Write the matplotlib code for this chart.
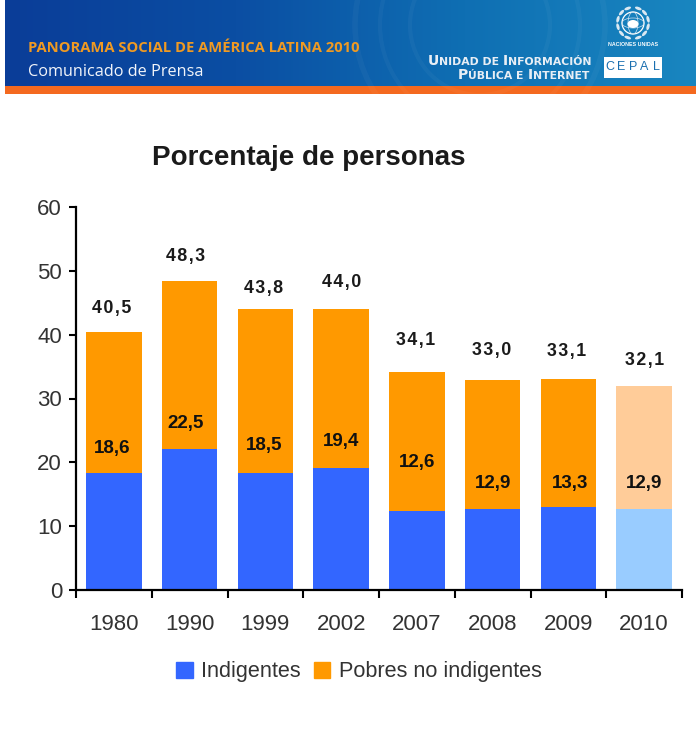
import matplotlib
matplotlib.use("Agg")
import matplotlib.pyplot as plt
import numpy as np
from matplotlib.colors import LinearSegmentedColormap
from matplotlib.patches import Circle, Ellipse, Patch, Rectangle

plt.rcParams["font.family"] = ["Liberation Sans", "DejaVu Sans"]

# Data
years = ["1980", "1990", "1999", "2002", "2007", "2008", "2009", "2010"]
indigentes = [18.3, 22.1, 18.3, 19.1, 12.4, 12.7, 13.0, 12.7]
pobres = [22.1, 26.3, 25.7, 24.9, 21.7, 20.2, 20.0, 19.3]
labels_total = ["40,5", "48,3", "43,8", "44,0", "34,1", "33,0", "33,1", "32,1"]
labels_indigentes = ["18,6", "22,5", "18,5", "19,4", "12,6", "12,9", "13,3", "12,9"]
y_ticks = [0, 10, 20, 30, 40, 50, 60]

W, H = 700, 732
HAIR = "\u200a"


def small_caps(fig, ax, x, y, parts):
    # parts alternate big and small pieces, drawn left to right from x (pixels)
    renderer = fig.canvas.get_renderer()
    for i, piece in enumerate(parts):
        size = 10 if i % 2 == 0 else 7.8
        t = ax.text(x, y, piece, color="#e8eef5", fontsize=size, fontweight="bold", family="DejaVu Sans",
                    va="baseline", zorder=3)
        x += t.get_window_extent(renderer).width


def draw_header(fig):
    # Whole figure in pixel coordinates, y going down
    bg = fig.add_axes([0, 0, 1, 1])
    cmap = LinearSegmentedColormap.from_list("band", ["#0a3d98", "#0b4ea3", "#0f6fb3", "#1986c0"])
    grad = np.linspace(0, 1, 256).reshape(1, -1)
    bg.imshow(grad, cmap=cmap, extent=(5, 696, 86, 0), aspect="auto", zorder=1)
    bg.set_xlim(0, W)
    bg.set_ylim(H, 0)
    bg.axis("off")
    bg.add_patch(Rectangle((5, 86), 691, 8, color="#f4691f", lw=0, zorder=2))

    # Faint globe behind the header
    clip = Rectangle((5, 0), 691, 94, transform=bg.transData)
    for r, lw in ((125, 4), (100, 3), (70, 3)):
        c = Circle((480, 25), r, fill=False, ec="white", alpha=0.035, lw=lw, zorder=2)
        bg.add_patch(c)
        c.set_clip_path(clip)

    bg.text(28, 48, "PANORAMA SOCIAL DE AMÉRICA LATINA 2010", color="#f09a22", fontsize=10.6,
            fontweight="bold", family="Open Sans", va="center", zorder=3)
    bg.text(28, 72, "Comunicado de Prensa", color="#f2f5fa", fontsize=11.7, family="Open Sans",
            va="center", zorder=3)
    small_caps(fig, bg, 428, 65, ["U", "NIDAD DE ", "I", "NFORMACIÓN"])
    small_caps(fig, bg, 458, 79, ["P", "ÚBLICA E ", "I", "NTERNET"])

    # UN emblem: globe and wreath
    cx, cy = 633, 23
    bg.add_patch(Circle((cx, cy), 11, fill=False, ec="white", lw=0.9, zorder=3))
    bg.add_patch(Ellipse((cx, cy), 10, 22, fill=False, ec="#cfe2f0", lw=0.5, zorder=3))
    bg.add_patch(Ellipse((cx, cy), 22, 10, fill=False, ec="#cfe2f0", lw=0.5, zorder=3))
    bg.add_patch(Ellipse((cx, cy + 1), 11, 8, color="white", lw=0, zorder=3))
    for a in np.radians(np.arange(-70, 71, 28)):
        for side in (-1, 1):
            bg.add_patch(Ellipse((cx + side * 15.5 * np.cos(a), cy + 15.5 * np.sin(a)), 3, 7,
                                 angle=side * np.degrees(a), color="#dbe8f2", lw=0, zorder=3))
    bg.text(cx, 45, "NACIONES UNIDAS", color="white", fontsize=3.8, fontweight="bold",
            ha="center", va="center", zorder=3)

    # CEPAL box
    bg.add_patch(Rectangle((604, 57), 58, 21, color="white", lw=0, zorder=3))
    for letter, lx in zip("CEPAL", [610, 621.5, 633, 644.5, 656]):
        bg.text(lx, 67.5, letter, color="#1a6fb0", fontsize=9, ha="center", va="center", zorder=4)


def draw_chart(fig):
    ax = fig.add_axes([76 / W, (H - 590) / H, 606 / W, 383 / H])
    x = np.arange(len(years)) + 0.5
    width = 0.73

    c_ind = ["#3366ff"] * 7 + ["#99ccff"]
    c_pob = ["#ff9900"] * 7 + ["#ffcc99"]
    ax.bar(x, indigentes, width, color=c_ind, label="Indigentes")
    ax.bar(x, pobres, width, bottom=indigentes, color=c_pob, label="Pobres no indigentes")

    # Hand placed label offsets (points from the top of each segment)
    off_t = [(-1.5, 17), (-3, 18), (-1.5, 15), (0, 19), (-1, 23), (-0.5, 21), (-1.5, 20), (0, 18)]
    off_i = [(-1.5, 18), (-3, 18), (-1, 20), (0, 19), (0, 35), (0, 18), (1.5, 17), (0, 18)]
    totals = np.array(indigentes) + np.array(pobres)
    for i in range(len(years)):
        ax.annotate(HAIR.join(labels_total[i]), (x[i], totals[i]), xytext=off_t[i], textcoords="offset points",
                    ha="center", va="center", fontsize=12.8, color="#1a1a1a", fontweight="bold")
        ax.annotate(labels_indigentes[i], (x[i], indigentes[i]), xytext=off_i[i], textcoords="offset points",
                    ha="center", va="center", fontsize=13.5, color="#111111", fontweight="bold")

    ax.set_xlim(0, len(years))
    ax.set_ylim(0, 60)
    ax.set_yticks(y_ticks)
    ax.set_xticks(np.arange(len(years) + 1))
    ax.set_xticklabels([])
    ax.set_xticks(x, minor=True)
    ax.set_xticklabels(years, minor=True)
    ax.tick_params(axis="x", which="major", length=6, width=1.5, color="black")
    ax.tick_params(axis="x", which="minor", length=0, pad=17, labelsize=16, labelcolor="#333333")
    ax.tick_params(axis="y", length=5, width=1.5, color="black", pad=5, labelsize=16, labelcolor="#333333")

    for s in ("top", "right"):
        ax.spines[s].set_visible(False)
    for s in ("left", "bottom"):
        ax.spines[s].set_linewidth(1.6)

    fig.text(309 / W, 1 - 158 / H, "Porcentaje de personas", fontsize=20, fontweight="bold",
             color="#1a1a1a", ha="center", va="center")

    handles = [Patch(color="#3366ff", label="Indigentes"), Patch(color="#ff9900", label="Pobres no indigentes")]
    fig.legend(handles=handles, loc="center", bbox_to_anchor=(359 / W, 1 - 672 / H), ncol=2, frameon=False,
               fontsize=15.6, handlelength=0.75, handleheight=0.75, handletextpad=0.4, columnspacing=0.6,
               labelcolor="#333333")


def main():
    fig = plt.figure(figsize=(W / 100, H / 100), dpi=100)
    draw_header(fig)
    draw_chart(fig)
    fig.savefig("out.png", dpi=100)


if __name__ == "__main__":
    main()
